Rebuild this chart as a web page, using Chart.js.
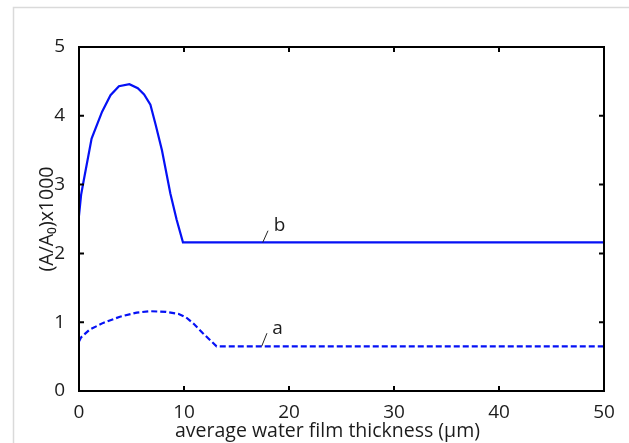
<!DOCTYPE html>
<html>
<head>
<meta charset="utf-8">
<title>film thickness</title>
<script src="https://cdn.jsdelivr.net/npm/chart.js@4.4.1/dist/chart.umd.min.js"></script>
<style>
  html, body { margin: 0; padding: 0; background: #fff; }
  #wrap { width: 629px; height: 443px; }
</style>
</head>
<body>
<div id="wrap"><canvas id="myChart" width="629" height="443"></canvas></div>
<script>
// curve b (solid)
const xB = [0, 0.2, 0.4, 1.2, 2.2, 3.0, 3.8, 4.8, 5.6, 6.2, 6.8, 7.3, 7.9, 8.7, 9.3, 9.9, 50];
const yB = [2.55, 2.85, 3.02, 3.67, 4.06, 4.30, 4.43, 4.46, 4.40, 4.31, 4.16, 3.87, 3.50, 2.87, 2.49, 2.16, 2.16];
// curve a (dashed)
const xA = [0, 0.2, 1.0, 2.3, 3.9, 5.5, 6.8, 8.3, 9.5, 10.2, 10.9, 11.8, 13.1, 50];
const yA = [0.72, 0.78, 0.89, 0.99, 1.08, 1.14, 1.16, 1.15, 1.12, 1.07, 0.98, 0.84, 0.65, 0.65];

const xTicks = [0, 10, 20, 30, 40, 50];
const yTicks = [0, 1, 2, 3, 4, 5];
const xTitle = "average water film thickness (μm)";
const yTitle = "(A/A₀)x1000";

// curve labels: text, leader start (on curve), leader end, text position
const labelText = ["b", "a"];
const labelLeaderFrom = [[17.5, 2.16], [17.4, 0.65]];
const labelLeaderTo = [[18.0, 2.33], [17.9, 0.84]];
const labelPos = [[19.1, 2.40], [18.9, 0.90]];

const fontFam = "'Open Sans', 'DejaVu Sans', sans-serif";
const txt = "#1c1c1c";
const blue = "#0511f5";

function pts(xs, ys) {
  let out = [];
  for (let i = 0; i < xs.length; i++) {
    out.push({ x: xs[i], y: ys[i] });
  }
  return out;
}

const data = {
  datasets: [
    {
      label: "b",
      data: pts(xB, yB),
      borderColor: blue,
      borderWidth: 2.2,
      pointRadius: 0,
      tension: 0,
    },
    {
      label: "a",
      data: pts(xA, yA),
      borderColor: blue,
      borderWidth: 2.2,
      borderDash: [6, 3],
      pointRadius: 0,
      tension: 0,
    },
  ],
};

// light page frame, plot box with inward ticks, curve labels
const matlabBox = {
  id: "matlabBox",
  beforeDraw(chart) {
    const ctx = chart.ctx;
    ctx.save();
    ctx.strokeStyle = "#dadada";
    ctx.lineWidth = 1.5;
    ctx.beginPath();
    ctx.moveTo(13.5, chart.height);
    ctx.lineTo(13.5, 7.5);
    ctx.lineTo(chart.width, 7.5);
    ctx.stroke();
    ctx.restore();
  },
  afterDraw(chart) {
    const ctx = chart.ctx;
    const { left, top, right, bottom } = chart.chartArea;
    const xs = chart.scales.x;
    const ys = chart.scales.y;
    const tl = 5;
    ctx.save();
    ctx.strokeStyle = "#000";
    ctx.lineWidth = 2;
    ctx.strokeRect(left, top, right - left, bottom - top);
    ctx.beginPath();
    xTicks.forEach((v) => {
      const px = xs.getPixelForValue(v);
      ctx.moveTo(px, bottom);
      ctx.lineTo(px, bottom - tl);
      ctx.moveTo(px, top);
      ctx.lineTo(px, top + tl);
    });
    yTicks.forEach((v) => {
      const py = ys.getPixelForValue(v);
      ctx.moveTo(left, py);
      ctx.lineTo(left + tl, py);
      ctx.moveTo(right, py);
      ctx.lineTo(right - tl, py);
    });
    ctx.stroke();

    // x title sits a little left of the axes centre
    ctx.fillStyle = txt;
    ctx.font = "19.5px " + fontFam;
    ctx.textAlign = "center";
    ctx.textBaseline = "middle";
    ctx.fillText(xTitle, (left + right) / 2 - 14, bottom + 40);

    ctx.strokeStyle = "#222";
    ctx.lineWidth = 1;
    ctx.font = "19px " + fontFam;
    for (let i = 0; i < labelText.length; i++) {
      ctx.beginPath();
      ctx.moveTo(xs.getPixelForValue(labelLeaderFrom[i][0]), ys.getPixelForValue(labelLeaderFrom[i][1]));
      ctx.lineTo(xs.getPixelForValue(labelLeaderTo[i][0]), ys.getPixelForValue(labelLeaderTo[i][1]));
      ctx.stroke();
      ctx.fillText(labelText[i], xs.getPixelForValue(labelPos[i][0]), ys.getPixelForValue(labelPos[i][1]));
    }
    ctx.restore();
  },
};

const config = {
  type: "line",
  data: data,
  options: {
    responsive: false,
    animation: false,
    layout: { padding: { top: 47, right: 25, left: 36, bottom: 0 } },
    plugins: {
      legend: { display: false },
      tooltip: { enabled: false },
    },
    scales: {
      x: {
        type: "linear",
        min: 0,
        max: 50,
        afterBuildTicks(scale) {
          scale.ticks = xTicks.map((v) => ({ value: v }));
        },
        afterFit(scale) {
          scale.height = 52;
        },
        grid: { display: false },
        border: { display: false },
        ticks: {
          color: txt,
          padding: 2,
          font: { family: fontFam, size: 19 },
          maxRotation: 0,
        },
      },
      y: {
        min: 0,
        max: 5,
        afterBuildTicks(scale) {
          scale.ticks = yTicks.map((v) => ({ value: v }));
        },
        afterFit(scale) {
          scale.width = 43;
        },
        grid: { display: false },
        border: { display: false },
        ticks: {
          color: txt,
          padding: 6,
          font: { family: fontFam, size: 19 },
        },
        title: {
          display: true,
          text: yTitle,
          color: txt,
          padding: { top: 0, bottom: 0 },
          font: { family: fontFam, size: 19.5 },
        },
      },
    },
  },
  plugins: [matlabBox],
};

const myChart = new Chart(document.getElementById("myChart"), config);
</script>
</body>
</html>
